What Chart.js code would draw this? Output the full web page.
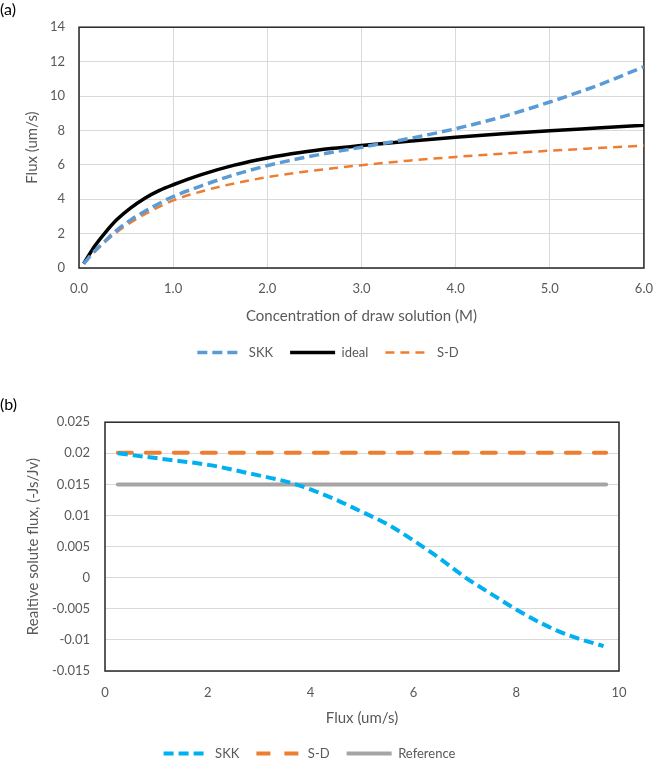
<!DOCTYPE html>
<html>
<head>
<meta charset="utf-8">
<script src="https://cdn.jsdelivr.net/npm/chart.js@4.4.1/dist/chart.umd.min.js"></script>
<style>
  html, body { margin: 0; padding: 0; background: #fff; overflow: hidden; }
  .box { position: absolute; left: 0; width: 666px; }
</style>
</head>
<body>
<div class="box" style="top:0;height:369px"><canvas id="chartA"></canvas></div>
<div class="box" style="top:366px;height:404px"><canvas id="chartB"></canvas></div>
<script>
// (a) flux vs concentration of draw solution
var concX = [0.05, 0.16, 0.27, 0.4, 0.55, 0.7, 0.85, 1.0, 1.3, 1.65, 2.0, 2.35, 2.7, 3.0, 3.5, 4.0, 4.5, 5.0, 5.5, 6.0];
var skkA = [0.25, 0.95, 1.53, 2.19, 2.8, 3.3, 3.75, 4.15, 4.78, 5.42, 5.95, 6.38, 6.74, 7.02, 7.52, 8.1, 8.8, 9.65, 10.6, 11.7];
var idealA = [0.25, 1.22, 2.0, 2.8, 3.5, 4.06, 4.5, 4.84, 5.43, 5.98, 6.4, 6.72, 6.96, 7.12, 7.37, 7.6, 7.8, 7.98, 8.14, 8.3];
var sdA = [0.25, 0.9, 1.48, 2.08, 2.65, 3.13, 3.56, 3.93, 4.45, 4.92, 5.28, 5.57, 5.8, 5.98, 6.24, 6.46, 6.65, 6.82, 6.97, 7.12];

// (b) relative solute flux vs flux
var fluxX = [0.25, 1.2, 2.04, 2.82, 3.66, 4.44, 4.93, 5.47, 6.0, 6.51, 7.0, 7.55, 8.0, 8.46, 9.0, 9.7];
var skkB = [0.02, 0.019, 0.0181, 0.01675, 0.01514, 0.01273, 0.01085, 0.0087, 0.006, 0.0031, 0.0001, -0.0028, -0.0051, -0.0072, -0.0092, -0.011];
var sdX = [0.25, 9.75];
var sdB = [0.0201, 0.0201];
var refX = [0.25, 9.75];
var refB = [0.015, 0.015];

var FONT = "Lato, 'Open Sans', sans-serif";
var GREY = "#595959";

function pts(xs, ys) {
    return xs.map(function (x, i) { return {x: x, y: ys[i]}; });
}

// frame around the plot area, like the original
var frame = {
    id: "frame",
    beforeDatasetsDraw: function (chart) {
        var a = chart.chartArea, c = chart.ctx;
        c.save();
        c.strokeStyle = "#262626";
        c.lineWidth = 1.5;
        c.strokeRect(a.left, a.top, a.right - a.left, a.bottom - a.top);
        c.restore();
    }
};

function legendOpts() {
    return {
        position: "bottom",
        labels: {
            usePointStyle: true,
            pointStyle: "line",
            pointStyleWidth: 45,
            padding: 17,
            color: GREY,
            font: {family: FONT, size: 13},
            // legend keys take dash and width from the datasets
            generateLabels: function (chart) {
                return chart.data.datasets.map(function (ds, i) {
                    return {
                        text: ds.label,
                        datasetIndex: i,
                        fillStyle: ds.borderColor,
                        strokeStyle: ds.borderColor,
                        lineWidth: ds.borderWidth,
                        lineDash: ds.borderDash || [],
                        lineCap: "butt",
                        pointStyle: "line",
                        fontColor: GREY,
                        hidden: false
                    };
                });
            }
        }
    };
}

new Chart(document.getElementById("chartA").getContext("2d"), {
    type: "line",
    data: {
        datasets: [
            {label: "SKK", data: pts(concX, skkA), borderColor: "#5B9BD5", borderWidth: 3.5, borderDash: [10, 5], pointRadius: 0, cubicInterpolationMode: "monotone", fill: false},
            {label: "ideal", data: pts(concX, idealA), borderColor: "#000000", borderWidth: 3.5, pointRadius: 0, cubicInterpolationMode: "monotone", fill: false},
            {label: "S-D", data: pts(concX, sdA), borderColor: "#ED7D31", borderWidth: 2.5, borderDash: [9, 6], pointRadius: 0, cubicInterpolationMode: "monotone", fill: false}
        ]
    },
    options: {
        responsive: true,
        maintainAspectRatio: false,
        animation: false,
        layout: {padding: {left: 0, right: 10, top: 0, bottom: 0}},
        plugins: {
            title: {display: true, text: "(a)", align: "start", color: "#000", font: {family: FONT, size: 16, weight: "normal"}, padding: {top: 0, bottom: 8}},
            legend: legendOpts(),
            tooltip: {enabled: false}
        },
        scales: {
            x: {
                type: "linear", min: 0, max: 6,
                ticks: {stepSize: 1, padding: 13, color: GREY, font: {family: FONT, size: 13}, callback: function (v) { return v.toFixed(1); }},
                grid: {color: "#D9D9D9", drawTicks: false},
                border: {display: false},
                title: {display: true, text: "Concentration of draw solution (M)", color: GREY, font: {family: FONT, size: 15}, padding: {top: 0, bottom: 4}},
                afterFit: function (s) { s.height = 61; }
            },
            y: {
                min: 0, max: 14,
                ticks: {stepSize: 2, padding: 14, color: GREY, font: {family: FONT, size: 13}},
                grid: {color: "#D9D9D9", drawTicks: false},
                border: {display: false},
                title: {display: true, text: "Flux (um/s)", color: GREY, font: {family: FONT, size: 15}, padding: {top: 23, bottom: 0}},
                afterFit: function (s) { s.width = 79; }
            }
        }
    },
    plugins: [frame]
});

new Chart(document.getElementById("chartB").getContext("2d"), {
    type: "line",
    data: {
        datasets: [
            {label: "SKK", data: pts(fluxX, skkB), borderColor: "#00B0F0", borderWidth: 4, borderDash: [10, 5], pointRadius: 0, cubicInterpolationMode: "monotone", fill: false},
            {label: "S-D", data: pts(sdX, sdB), borderColor: "#ED7D31", borderWidth: 4, borderDash: [14, 14], borderCapStyle: "round", pointRadius: 0, fill: false},
            {label: "Reference", data: pts(refX, refB), borderColor: "#A5A5A5", borderWidth: 4, borderCapStyle: "round", pointRadius: 0, fill: false}
        ]
    },
    options: {
        responsive: true,
        maintainAspectRatio: false,
        animation: false,
        layout: {padding: {left: 0, right: 47, top: 0, bottom: 0}},
        plugins: {
            title: {display: true, text: "(b)", align: "start", color: "#000", font: {family: FONT, size: 16, weight: "normal"}, padding: {top: 29, bottom: 8}},
            legend: legendOpts(),
            tooltip: {enabled: false}
        },
        scales: {
            x: {
                type: "linear", min: 0, max: 10,
                ticks: {stepSize: 2, padding: 14, color: GREY, font: {family: FONT, size: 13}},
                grid: {display: false, drawTicks: false},
                border: {display: false},
                title: {display: true, text: "Flux (um/s)", color: GREY, font: {family: FONT, size: 15}, padding: {top: 0, bottom: 3}},
                afterFit: function (s) { s.height = 59; }
            },
            y: {
                min: -0.015, max: 0.025,
                ticks: {stepSize: 0.005, padding: 15, color: GREY, font: {family: FONT, size: 13}, callback: function (v) { return String(Number(v.toFixed(3))); }},
                grid: {color: "#D9D9D9", drawTicks: false},
                border: {display: false},
                title: {display: true, text: "Realtive solute flux, (-Js/Jv)", color: GREY, font: {family: FONT, size: 15}, padding: {top: 24, bottom: 0}},
                afterFit: function (s) { s.width = 105; }
            }
        }
    },
    plugins: [frame]
});
</script>
</body>
</html>
